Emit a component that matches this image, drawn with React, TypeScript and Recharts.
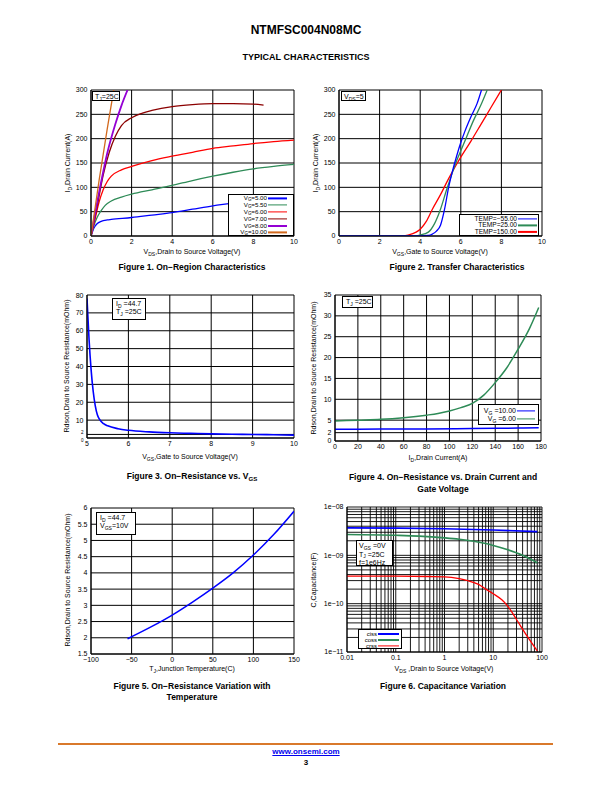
import React from "react";
import { LineChart, Line, XAxis, YAxis, CartesianGrid } from "recharts";

const FONT = "'Liberation Sans', Arial, Helvetica, sans-serif";

// Figure 1: Id vs Vds, [Vds, Id]
const vg500 = [[0, 0], [0.1, 12], [0.2, 20], [0.3, 25], [0.5, 30], [0.8, 33], [1, 34], [2, 38], [3, 43], [4, 48], [5, 55], [6, 62], [7, 68], [8, 75], [9, 80], [10, 85]];
const vg550 = [[0, 0], [0.1, 15], [0.2, 28], [0.3, 38], [0.5, 52], [0.7, 63], [1, 72], [1.5, 80], [2, 86], [3, 95], [4, 104], [5, 114], [6, 123], [7, 131], [8, 138], [9, 143], [10, 147]];
const vg600 = [[0, 0], [0.2, 35], [0.4, 70], [0.6, 95], [0.8, 112], [1, 123], [1.5, 136], [2, 143], [3, 155], [4, 164], [5, 172], [6, 180], [7, 185], [8, 190], [9, 194], [10, 197]];
const vg700 = [[0, 0], [0.3, 60], [0.6, 125], [0.9, 172], [1.2, 205], [1.5, 227], [2, 243], [2.5, 252], [3, 258], [4, 266], [5, 270], [6, 272], [7, 272], [8, 271], [8.5, 269]];
const vg800 = [[0, 0], [0.4, 90], [0.8, 170], [1.2, 230], [1.5, 268], [1.8, 300]];
const vg1000 = [[0, 0], [0.4, 115], [0.8, 220], [1.12, 300]];

// Figure 2: Id vs Vgs, [Vgs, Id]
const tempM55 = [[0, 0], [4, 0], [4.4, 1], [4.6, 4], [4.8, 10], [5, 22], [5.2, 55], [5.4, 100], [5.6, 135], [5.8, 165], [6, 192], [6.2, 215], [6.5, 245], [6.8, 272], [7.02, 300]];
const temp25 = [[0, 0], [3.6, 0], [4, 2], [4.4, 8], [4.7, 25], [5, 55], [5.3, 95], [5.5, 120], [5.8, 155], [6, 175], [6.3, 205], [6.6, 235], [7, 270], [7.3, 300]];
const temp150 = [[0, 0], [3, 0], [3.4, 2], [3.8, 8], [4, 14], [4.3, 30], [4.6, 55], [5, 85], [5.4, 118], [5.8, 148], [6, 162], [6.5, 195], [7, 230], [7.5, 265], [8, 300]];

// Figure 3: Rdson vs Vgs
const rdsVgs = [[5, 78], [5.05, 55], [5.1, 38], [5.15, 26], [5.2, 18], [5.25, 13], [5.3, 10.5], [5.4, 8], [5.5, 6.8], [5.75, 5.2], [6, 4.3], [6.5, 3.4], [7, 2.9], [7.5, 2.6], [8, 2.3], [8.5, 2.1], [9, 2.0], [9.5, 1.8], [10, 1.6]];

// Figure 4: Rdson vs Id
const rdsVg10 = [[0, 2.8], [40, 2.85], [80, 2.9], [120, 3.0], [160, 3.1], [178, 3.2]];
const rdsVg6 = [[0, 4.8], [20, 5.0], [40, 5.2], [60, 5.6], [80, 6.2], [90, 6.6], [100, 7.2], [110, 8], [120, 9], [130, 11], [140, 14], [150, 17.5], [160, 22], [170, 27], [178, 32]];

// Figure 5: Rdson vs Tj
const rdsTemp = [[-55, 1.97], [-25, 2.35], [0, 2.7], [25, 3.1], [50, 3.53], [75, 4.0], [100, 4.55], [125, 5.18], [150, 5.9]];

// Figure 6: capacitance vs Vds
const ciss = [[0.01, 3.7e-9], [0.1, 3.65e-9], [1, 3.55e-9], [10, 3.35e-9], [80, 3.1e-9]];
const coss = [[0.01, 2.7e-9], [0.1, 2.6e-9], [0.3, 2.5e-9], [1, 2.3e-9], [2, 2.15e-9], [4, 1.95e-9], [7, 1.75e-9], [10, 1.6e-9], [20, 1.3e-9], [40, 1.0e-9], [80, 7e-10]];
const crss = [[0.01, 3.7e-10], [0.1, 3.7e-10], [0.5, 3.65e-10], [1, 3.6e-10], [2, 3.3e-10], [3, 3.0e-10], [5, 2.5e-10], [7, 2.0e-10], [10, 1.6e-10], [15, 1.2e-10], [20, 8.8e-11], [30, 4.7e-11], [50, 2.1e-11], [80, 1.05e-11]];

const ticks1X = [0, 2, 4, 6, 8, 10];
const ticks1Y = [0, 50, 100, 150, 200, 250, 300];
const ticks3X = [5, 6, 7, 8, 9, 10];
const ticks3Y = [0, 2, 10, 20, 30, 40, 50, 60, 70, 80];
const ticks4X = [0, 20, 40, 60, 80, 100, 120, 140, 160, 180];
const ticks4Y = [0, 2, 5, 10, 15, 20, 25, 30, 35];
const ticks5X = [-100, -50, 0, 50, 100, 150];
const ticks5Y = [1.5, 2, 2.5, 3, 3.5, 4, 4.5, 5, 5.5, 6];

const decades = (from: number, to: number) => {
  const out: number[] = [];
  for (let e = from; e < to; e++) {
    for (let m = 1; m < 10; m++) out.push(Number((m * Math.pow(10, e)).toPrecision(3)));
  }
  out.push(Math.pow(10, to));
  return out;
};
const ticks6X = decades(-2, 2);
const ticks6Y = decades(-11, -8);

const isPow10 = (v: number) => Math.abs(Math.log10(v) - Math.round(Math.log10(v))) < 1e-6;
const minus = (v: number) => (v < 0 ? "\u2212" + Math.abs(v) : String(v));
const fmt6X = (v: number) => (isPow10(v) ? String(Number(v.toPrecision(1))) : "");
const fmt6Y = (v: number) => {
  if (!isPow10(v)) return "";
  const e = Math.round(Math.log10(v));
  return "1e\u2212" + String(-e).padStart(2, "0");
};

const toXY = (pts: number[][]) => pts.map(([x, y]) => ({ x, y }));

type Series = { pts: number[][]; color: string; width?: number };

// small y tick labels packed near the bottom of fig 3
const CrampedYTick = (p: any) => {
  const v = p.payload.value;
  const small = v === 0 || v === 2;
  const dy = v === 0 ? 2 : v === 2 ? -1.5 : 0;
  return (
    <text x={p.x} y={p.y + dy} textAnchor="end" dominantBaseline="central" fontSize={small ? 4.5 : 7} fill="#000" fontFamily={FONT}>
      {String(v)}
    </text>
  );
};

function Plot(props: {
  l: number; t: number; w: number; h: number;
  xDomain: number[]; yDomain: number[];
  xTicks: number[]; yTicks: number[];
  series: Series[]; log?: boolean; cramped?: boolean;
  xFmt?: (v: number) => string; yFmt?: (v: number) => string;
}) {
  const { l, t, w, h, log } = props;
  const yw = 34, mt = 6, mr = 12, xh = 16;
  const tick = { fontSize: 7, fill: "#000", fontFamily: FONT };
  return (
    <div style={{ position: "absolute", left: l - yw, top: t - mt }}>
      <LineChart width={w + yw + mr} height={h + mt + xh} margin={{ top: mt, right: mr, left: 0, bottom: 0 }}>
        <CartesianGrid stroke="#000" strokeWidth={log ? 0.9 : 1} />
        <XAxis type="number" dataKey="x" domain={props.xDomain} ticks={props.xTicks} scale={log ? "log" : "linear"}
          allowDataOverflow interval={0} height={xh} tickLine={false} tickSize={2} tickMargin={1.5}
          axisLine={{ stroke: "#000" }} tick={tick} tickFormatter={props.xFmt || minus} />
        <YAxis type="number" dataKey="y" domain={props.yDomain} ticks={props.yTicks} scale={log ? "log" : "linear"}
          allowDataOverflow interval={0} width={yw} tickLine={false} tickSize={2} tickMargin={1.5}
          axisLine={{ stroke: "#000" }} tick={props.cramped ? <CrampedYTick /> : tick} tickFormatter={props.yFmt || minus} />
        {props.series.map((s, i) => (
          <Line key={i} data={toXY(s.pts)} dataKey="y" type="monotone" stroke={s.color} strokeWidth={s.width || 1.3}
            dot={false} isAnimationActive={false} />
        ))}
      </LineChart>
    </div>
  );
}

function Txt(props: { x: number; y: number; size?: number; bold?: boolean; rot?: boolean; anchor?: string; children: React.ReactNode; color?: string; style?: React.CSSProperties }) {
  const tx = props.anchor === "end" ? "-100%" : props.anchor === "start" ? "0" : "-50%";
  return (
    <div style={{
      position: "absolute", left: props.x, top: props.y, whiteSpace: "nowrap", lineHeight: 1,
      fontFamily: FONT, fontSize: props.size || 7, fontWeight: props.bold ? "bold" : "normal", color: props.color || "#000",
      transform: `translate(${tx},-50%)` + (props.rot ? " rotate(-90deg)" : ""), transformOrigin: "center", ...props.style,
    }}>{props.children}</div>
  );
}

const Sub = ({ children, lift }: { children: React.ReactNode; lift?: boolean }) => (
  <span style={{ fontSize: "0.72em", position: "relative", top: lift ? "0.12em" : "0.3em" }}>{children}</span>
);

function Box(props: { l: number; t: number; w: number; h: number; children: React.ReactNode; pad?: number; lh?: number }) {
  return (
    <div style={{
      position: "absolute", left: props.l, top: props.t, width: props.w, height: props.h, boxSizing: "border-box",
      border: "1px solid #000", background: "#fff", fontFamily: FONT, fontSize: 7, lineHeight: (props.lh || 8) + "px",
      paddingLeft: props.pad ?? 2, paddingTop: 1, color: "#000",
    }}>{props.children}</div>
  );
}

function Legend(props: { l: number; t: number; w: number; h: number; textRight: number; lineW: number; rowH: number; top: number; fs?: number;
  items: { label: React.ReactNode; color: string; width?: number }[] }) {
  return (
    <div style={{ position: "absolute", left: props.l, top: props.t, width: props.w, height: props.h, boxSizing: "border-box", border: "1px solid #000", background: "#fff" }}>
      {props.items.map((it, i) => (
        <div key={i} style={{ position: "absolute", top: props.top + i * props.rowH, left: 0, width: props.w - 2, height: props.rowH }}>
          <div style={{ position: "absolute", right: props.w - 2 - props.textRight, top: "50%", transform: "translateY(-50%)", fontFamily: FONT, fontSize: props.fs || 7, lineHeight: 1, whiteSpace: "nowrap" }}>{it.label}</div>
          <div style={{ position: "absolute", left: props.textRight + 1, width: props.lineW, top: "50%", height: it.width || 1.2, transform: "translateY(-50%)", background: it.color }} />
        </div>
      ))}
    </div>
  );
}

const BLUE = "#0000ff";
const GREEN = "#2e8b57";
const RED = "#ff0000";
const DARKRED = "#8b0000";
const PURPLE = "#9400d3";
const ORANGE = "#d2691e";

export default function App() {
  return (
    <div style={{ position: "absolute", left: 0, top: 0, width: 612, height: 792, background: "#fff", overflow: "hidden" }}>
      <Txt x={306} y={30} size={12} bold>NTMFSC004N08MC</Txt>
      <Txt x={306} y={57} size={9} bold>TYPICAL CHARACTERISTICS</Txt>

      {/* Figure 1 */}
      <Plot l={91} t={90} w={203} h={146} xDomain={[0, 10]} yDomain={[0, 300]} xTicks={ticks1X} yTicks={ticks1Y}
        series={[
          { pts: vg500, color: BLUE }, { pts: vg550, color: GREEN }, { pts: vg600, color: RED },
          { pts: vg700, color: DARKRED }, { pts: vg800, color: PURPLE, width: 1.8 }, { pts: vg1000, color: ORANGE },
        ]} />
      <Box l={92} t={91} w={28} h={10}>T<Sub>J</Sub>=25C</Box>
      <Legend l={228} t={194} w={66} h={42} textRight={38} lineW={19} rowH={6.8} top={0} fs={6.2}
        items={[
          { label: <>V<Sub lift>G</Sub>=5.00</>, color: BLUE },
          { label: <>V<Sub lift>G</Sub>=5.50</>, color: GREEN },
          { label: <>V<Sub lift>G</Sub>=6.00</>, color: RED },
          { label: <>V<Sub lift>G</Sub>=7.00</>, color: DARKRED },
          { label: <>V<Sub lift>G</Sub>=8.00</>, color: PURPLE, width: 2 },
          { label: <>V<Sub lift>G</Sub>=10.00</>, color: ORANGE },
        ]} />
      <Txt x={68} y={163} rot>I<Sub>D</Sub>,Drain Current(A)</Txt>
      <Txt x={192} y={252}>V<Sub>DS</Sub>,Drain to Source Voltage(V)</Txt>
      <Txt x={192} y={267} size={8.5} bold>Figure 1. On−Region Characteristics</Txt>

      {/* Figure 2 */}
      <Plot l={339} t={90} w={203} h={146} xDomain={[0, 10]} yDomain={[0, 300]} xTicks={ticks1X} yTicks={ticks1Y}
        series={[{ pts: temp150, color: RED }, { pts: temp25, color: GREEN }, { pts: tempM55, color: BLUE }]} />
      <Box l={341} t={91} w={25} h={10}>V<Sub>DS</Sub>=5</Box>
      <Legend l={459} t={214} w={80} h={22} textRight={57} lineW={19} rowH={6.8} top={0.3} fs={6.6}
        items={[
          { label: "TEMP=−55.00", color: BLUE },
          { label: "TEMP=25.00", color: GREEN },
          { label: "TEMP=150.00", color: RED, width: 2.2 },
        ]} />
      <Txt x={316} y={163} rot>I<Sub>D</Sub>,Drain Current(A)</Txt>
      <Txt x={440} y={252}>V<Sub>GS</Sub>,Gate to Source Voltage(V)</Txt>
      <Txt x={457} y={267} size={8.5} bold>Figure 2. Transfer Characteristics</Txt>

      {/* Figure 3 */}
      <Plot l={87} t={295} w={207} h={143} xDomain={[5, 10]} yDomain={[0, 80]} xTicks={ticks3X} yTicks={ticks3Y} cramped
        series={[{ pts: rdsVgs, color: BLUE, width: 1.6 }]} />
      <Box l={112} t={298} w={34} h={22} pad={3}>I<Sub>D</Sub> =44.7<br />T<Sub>J</Sub> =25C</Box>
      <Txt x={66} y={366} rot>Rdson,Drain to Source Resistance(mOhm)</Txt>
      <Txt x={190} y={457}>V<Sub>GS</Sub>,Gate to Source Voltage(V)</Txt>
      <Txt x={192} y={476} size={8.5} bold>Figure 3. On−Resistance vs. V<Sub>GS</Sub></Txt>

      {/* Figure 4 */}
      <Plot l={335} t={295} w={206} h={146} xDomain={[0, 180]} yDomain={[0, 35]} xTicks={ticks4X} yTicks={ticks4Y}
        series={[{ pts: rdsVg10, color: BLUE, width: 1.5 }, { pts: rdsVg6, color: GREEN, width: 1.5 }]} />
      <Box l={342} t={296} w={31} h={12} pad={3}>T<Sub>J</Sub> =25C</Box>
      <Legend l={478} t={404} w={61} h={21} textRight={37} lineW={18} rowH={8} top={2}
        items={[
          { label: <>V<Sub>G</Sub> =10.00</>, color: BLUE },
          { label: <>V<Sub>G</Sub> =6.00</>, color: GREEN },
        ]} />
      <Txt x={313} y={368} rot>Rdson,Drain to Source Resistance(mOhm)</Txt>
      <Txt x={438} y={458}>I<Sub>D</Sub>,Drain Current(A)</Txt>
      <Txt x={443} y={477} size={8.5} bold>Figure 4. On−Resistance vs. Drain Current and</Txt>
      <Txt x={443} y={489} size={8.5} bold>Gate Voltage</Txt>

      {/* Figure 5 */}
      <Plot l={91} t={508} w={203} h={146} xDomain={[-100, 150]} yDomain={[1.5, 6]} xTicks={ticks5X} yTicks={ticks5Y}
        series={[{ pts: rdsTemp, color: BLUE, width: 1.5 }]} />
      <Box l={96} t={512} w={40} h={23} pad={3}>I<Sub>D</Sub> =44.7<br />V<Sub>GS</Sub>=10V</Box>
      <Txt x={67} y={580} rot>Rdson,Drain to Source Resistance(mOhm)</Txt>
      <Txt x={192} y={669}>T<Sub>J</Sub>,Junction Temperature(C)</Txt>
      <Txt x={192} y={686} size={8.5} bold>Figure 5. On−Resistance Variation with</Txt>
      <Txt x={192} y={697} size={8.5} bold>Temperature</Txt>

      {/* Figure 6 */}
      <Plot l={347} t={507} w={195} h={145} log xDomain={[0.01, 100]} yDomain={[1e-11, 1e-8]} xTicks={ticks6X} yTicks={ticks6Y}
        xFmt={fmt6X} yFmt={fmt6Y}
        series={[{ pts: ciss, color: BLUE, width: 1.6 }, { pts: coss, color: GREEN, width: 1.6 }, { pts: crss, color: RED, width: 1.3 }]} />
      <Box l={356} t={540} w={37} h={26} lh={7.6}>V<Sub>GS</Sub> =0V<br />T<Sub>J</Sub> =25C<br />f=1e6Hz</Box>
      <Legend l={358} t={629} w={44} h={20} textRight={18} lineW={21} rowH={6} top={0.5} fs={6}
        items={[
          { label: "ciss", color: BLUE, width: 2 },
          { label: "coss", color: GREEN, width: 2 },
          { label: "crss", color: RED, width: 1.2 },
        ]} />
      <Txt x={313} y={580} rot>C,Capacitance(F)</Txt>
      <Txt x={444} y={669}>V<Sub>DS</Sub> ,Drain to Source Voltage(V)</Txt>
      <Txt x={443} y={686} size={8.5} bold>Figure 6. Capacitance Variation</Txt>

      {/* footer */}
      <div style={{ position: "absolute", left: 58, top: 743, width: 495, height: 1.5, background: "#d9792b" }} />
      <Txt x={306} y={752} size={8} bold color="#0000ee" style={{ textDecoration: "underline" }}>www.onsemi.com</Txt>
      <Txt x={306} y={763} size={8} bold>3</Txt>
    </div>
  );
}
